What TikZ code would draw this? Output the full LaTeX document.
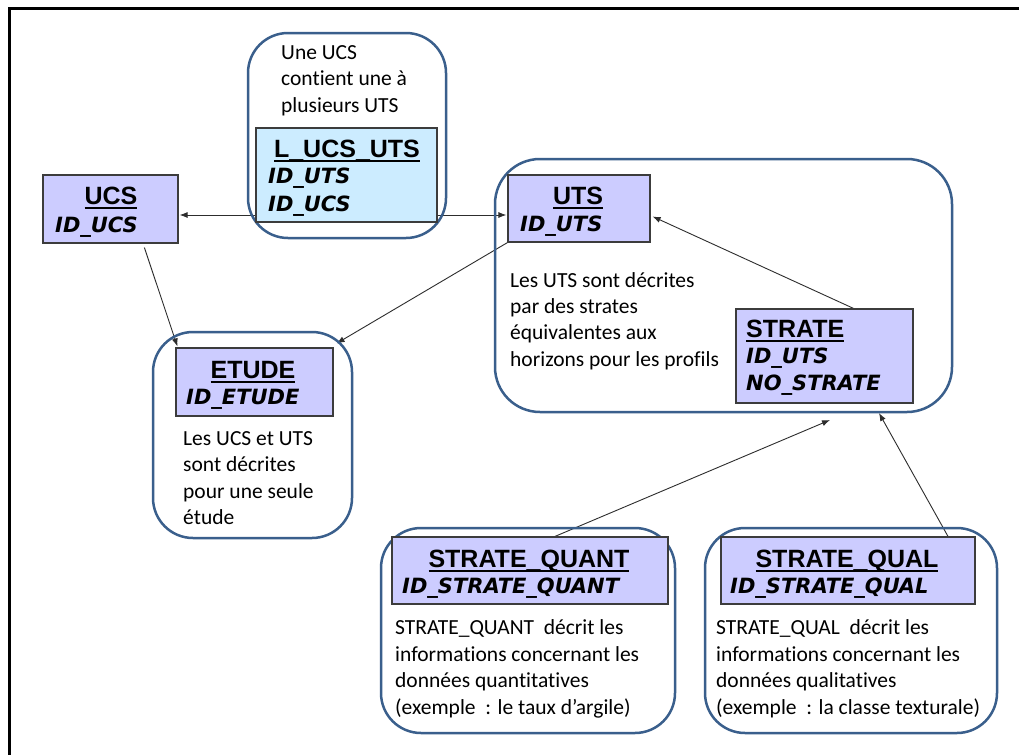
\documentclass[tikz,border=0pt]{standalone}
\usepackage{fontspec}
\setmainfont{Carlito}[RawFeature={-liga}]
\newfontfamily\titlefont{Liberation Sans}
\newfontfamily\idfont{DejaVu Sans}
\usetikzlibrary{arrows.meta,calc}
\pgfdeclarelayer{bg}
\pgfsetlayers{bg,main}
\definecolor{grpblue}{RGB}{58,95,140}
\definecolor{lav}{RGB}{204,204,255}
\definecolor{lblue}{RGB}{204,236,255}
\definecolor{entborder}{RGB}{60,60,60}
\definecolor{linegrey}{RGB}{45,45,45}
\newcommand\ulx[1]{\setbox0\hbox{#1}\rlap{\rule[-5pt]{\wd0}{2pt}}\box0}
\tikzset{
  grp/.style={draw=grpblue, line width=2.5pt, rounded corners=40pt, inner sep=0pt, shape=rectangle},
  ent/.style={draw=entborder, line width=1.2pt, fill=lav, inner sep=0pt, shape=rectangle},
  ttl/.style={font=\titlefont\bfseries\fontsize{25}{25}\selectfont, anchor=base, inner sep=0pt},
  idt/.style={font=\idfont\bfseries\itshape\fontsize{21}{21}\selectfont, anchor=base west, inner sep=0pt},
  body/.style={font=\fontsize{21.5}{21.5}\selectfont, anchor=base west, inner sep=0pt},
  arr/.style={draw=linegrey, line width=0.9pt, -{Latex[length=8pt,width=6pt]}},
  arrb/.style={draw=linegrey, line width=0.9pt, {Latex[length=8pt,width=6pt]}-{Latex[length=8pt,width=6pt]}}
}
\begin{document}
\begin{tikzpicture}[x=1pt,y=-1pt]
\begin{pgfonlayer}{bg}
\fill[white] (0,0) rectangle (1023,755);
\end{pgfonlayer}
\useasboundingbox (0,0) rectangle (1023,755);
\draw[line width=3pt, black] (1019,8) -- (9.5,8) -- (9.5,758);

% group boxes
\node[grp, minimum width=198pt, minimum height=205pt] (lucsg) at (347,135.5) {};
\node[grp, rounded corners=45pt, minimum width=457pt, minimum height=253pt] (utsg) at (723.5,285.5) {};
\node[grp, minimum width=199pt, minimum height=206pt] (etudeg) at (252.5,435) {};
\node[grp, minimum width=294pt, minimum height=205pt] (quantg) at (528,630.5) {};
\node[grp, minimum width=292pt, minimum height=205pt] (qualg) at (851,630.5) {};

% entity boxes
\node[ent, fill=lblue, minimum width=181pt, minimum height=94pt] (lucs) at (346.5,175) {};
\node[ent, minimum width=135pt, minimum height=68pt] (ucs) at (110.5,209) {};
\node[ent, minimum width=142pt, minimum height=67pt] (uts) at (579,208.5) {};
\node[ent, minimum width=177pt, minimum height=94pt] (strate) at (824.5,356) {};
\node[ent, minimum width=157pt, minimum height=68pt] (etude) at (254.5,382) {};
\node[ent, minimum width=276pt, minimum height=67pt] (quant) at (530,570.5) {};
\node[ent, minimum width=254pt, minimum height=67pt] (qual) at (848,570.5) {};

% free arrow ends
\coordinate (qtip) at (830,420);
\coordinate (ltip) at (879,413);

% connectors
\begin{pgfonlayer}{bg}
\draw[arrb] ($(ucs.east)+(1,6)$) -- ($(uts.west)+(-1,6.5)$);
\draw[arr] ($(ucs.south west)+(102,4)$) -- ($(etude.north west)+(2,-1)$);
\draw[arr] (uts.south west) -- ($(etude.north east)+(3,-4)$);
\draw[arr] ($(strate.north)+(29,0)$) -- ($(uts.east)+(2,8)$);
\draw[arr] ($(quant.north)+(25,0)$) -- (qtip);
\draw[arr] ($(qual.north)+(100,0)$) -- (ltip);
\end{pgfonlayer}

% L_UCS_UTS
\node[body] (l1) at (281,59) {Une UCS};
\node[body] (l2) at (281,85.5) {contient une à};
\node[body] (l3) at (281,112) {plusieurs UTS};
\node[ttl] (lt) at (347,157) {\ulx{L\_UCS\_UTS}};
\node[idt] (li1) at (268,183) {ID\_UTS};
\node[idt] (li2) at (268,211) {ID\_UCS};

% UCS
\node[ttl] (ut) at (111,204) {\ulx{UCS}};
\node[idt] (ui) at (55,232) {ID\_UCS};

% UTS
\node[ttl] (tt) at (578,204) {\ulx{UTS}};
\node[idt] (ti) at (520,231) {ID\_UTS};
\node[body] (t1) at (510,287) {Les UTS sont décrites};
\node[body] (t2) at (510,313) {par des strates};
\node[body] (t3) at (510,339.5) {équivalentes aux};
\node[body] (t4) at (510,366) {horizons pour les profils};

% STRATE
\node[ttl, anchor=base west] (st) at (746,337) {\ulx{STRATE}};
\node[idt] (si1) at (746,363) {ID\_UTS};
\node[idt] (si2) at (746,390) {NO\_STRATE};

% ETUDE
\node[ttl] (et) at (253,378) {\ulx{ETUDE}};
\node[idt] (ei) at (186,404) {ID\_ETUDE};
\node[body] (e1) at (183,445) {Les UCS et UTS};
\node[body] (e2) at (183,471.5) {sont décrites};
\node[body] (e3) at (183,498) {pour une seule};
\node[body] (e4) at (183,524) {étude};

% STRATE_QUANT
\node[ttl] (qt) at (529,567) {\ulx{STRATE\_QUANT}};
\node[idt] (qi) at (402,593) {ID\_STRATE\_QUANT};
\node[body] (q1) at (395,634) {STRATE\_QUANT\ \ décrit les};
\node[body] (q2) at (395,661) {informations concernant les};
\node[body] (q3) at (395,687.5) {données quantitatives};
\node[body] (q4) at (395,714) {(exemple\ \ : le taux d’argile)};

% STRATE_QUAL
\node[ttl] (ltt) at (847,567) {\ulx{STRATE\_QUAL}};
\node[idt] (lti) at (730,593) {ID\_STRATE\_QUAL};
\node[body] (ql1) at (716,634) {STRATE\_QUAL\ \ décrit les};
\node[body] (ql2) at (716,661) {informations concernant les};
\node[body] (ql3) at (716,687.5) {données qualitatives};
\node[body] (ql4) at (716,714) {(exemple\ \ : la classe texturale)};
\end{tikzpicture}
\end{document}
